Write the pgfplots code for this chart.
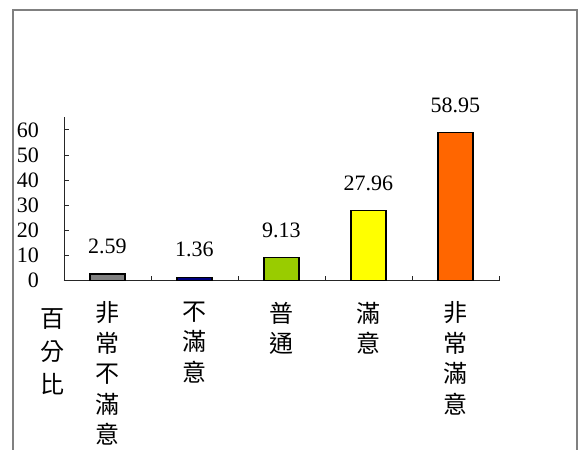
\documentclass[border=0pt]{standalone}
\usepackage{fontspec}
\setmainfont{Liberation Serif}
\newfontfamily\cjk{Noto Sans CJK TC}
\usepackage{pgfplots}
\pgfplotsset{compat=1.18}
\definecolor{framegray}{HTML}{808080}
\definecolor{cgray}{HTML}{808080}
\definecolor{cnavy}{HTML}{000080}
\definecolor{cgreen}{HTML}{99CC00}
\definecolor{cyellow}{HTML}{FFFF00}
\definecolor{corange}{HTML}{FF6600}
\begin{document}
\begin{tikzpicture}
\useasboundingbox (0,0) rectangle (582pt,450pt);
\draw[color=framegray, line width=1.6pt] (13pt,-20pt) -- (13pt,440pt) -- (577pt,440pt) -- (577pt,-20pt);
\begin{axis}[
  at={(64pt,169.3pt)}, anchor=south west,
  scale only axis, width=435pt, height=163.4pt,
  xmin=0, xmax=5, ymin=0, ymax=65,
  axis x line=bottom, axis y line=left,
  axis line style={-, line width=0.8pt, color=black!85},
  ybar, bar width=35pt,
  every axis plot/.append style={bar shift=0pt},
  ytick={0,10,...,60},
  tick align=inside,
  major tick length=5pt,
  minor tick length=5pt,
  xtick={0.5,1.5,2.5,3.5,4.5},
  xticklabels={{非\\常\\不\\滿\\意},{不\\滿\\意},{普\\通},{滿\\意},{非\\常\\滿\\意}},
  minor xtick={1,2,3,4,5},
  major x tick style={draw=none},
  tick style={color=black!85, line width=0.8pt},
  yticklabel style={font=\fontsize{22}{22}\selectfont, anchor=east, inner sep=0pt, xshift=-25pt},
  xticklabel style={font=\cjk\fontsize{24}{30.5}\selectfont, align=center, anchor=north, inner sep=0pt, yshift=-21pt},
  /pgf/number format/assume math mode=true,
  nodes near coords, point meta=explicit symbolic,
  nodes near coords style={font=\fontsize{22}{22}\selectfont, anchor=center, yshift=27.5pt},
  clip=false,
]
\addplot[fill=cgray, draw=black, line width=1.5pt] coordinates {(0.5,2.59) [2.59]};
\addplot[fill=cnavy, draw=black, line width=1.5pt] coordinates {(1.5,1.36) [1.36]};
\addplot[fill=cgreen, draw=black, line width=1.5pt] coordinates {(2.5,9.13) [9.13]};
\addplot[fill=cyellow, draw=black, line width=1.5pt] coordinates {(3.5,27.96) [27.96]};
\addplot[fill=corange, draw=black, line width=1.5pt] coordinates {(4.5,58.95) [58.95]};
\end{axis}
\node[font=\cjk\fontsize{24}{33}\selectfont, align=center, anchor=north, inner sep=0pt] at (52.5pt,142pt) {百\\分\\比};
\end{tikzpicture}
\end{document}
